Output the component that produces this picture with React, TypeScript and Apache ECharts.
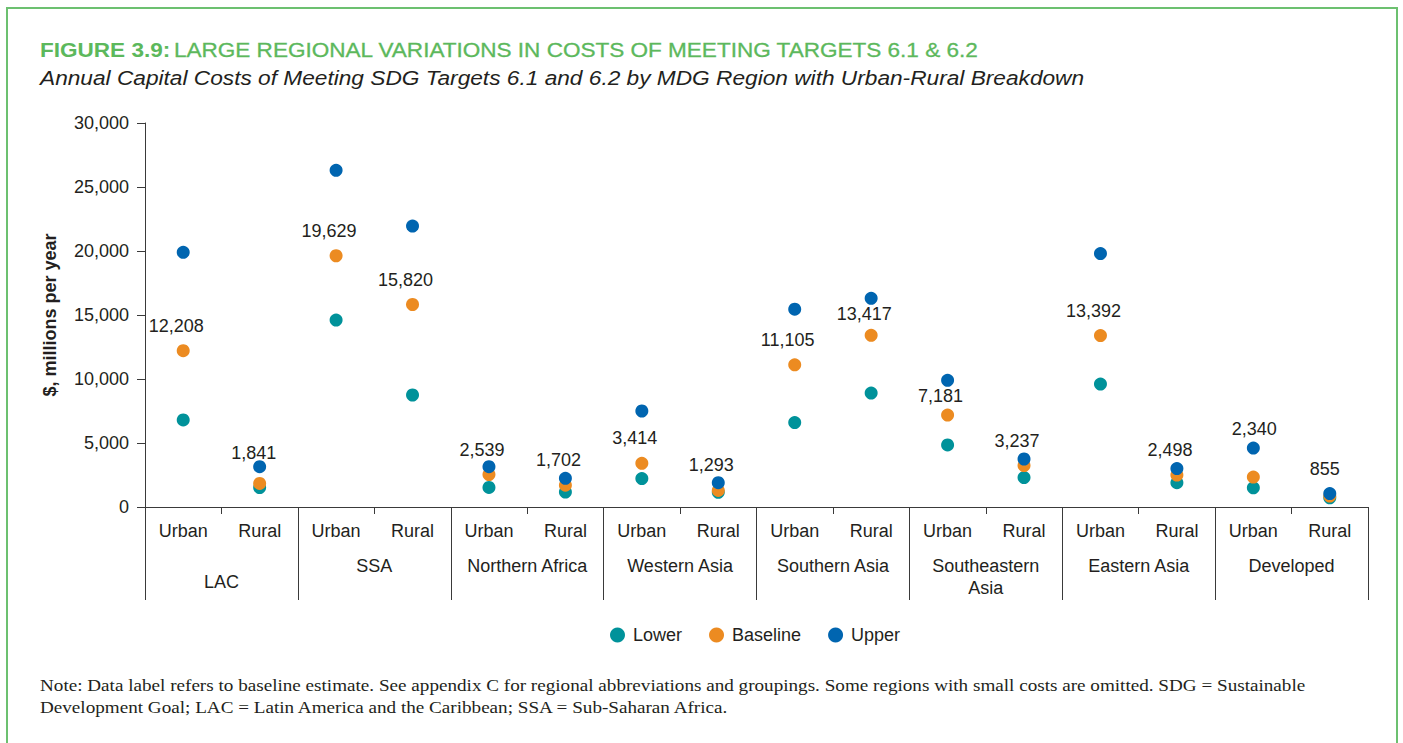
import React, { useEffect, useRef } from 'react';
import * as echarts from 'echarts';

// ---------- data ----------
const regions = ['LAC', 'SSA', 'Northern Africa', 'Western Asia', 'Southern Asia', 'Southeastern Asia', 'Eastern Asia', 'Developed'];
const areaTypes = ['Urban', 'Rural'];
const categories = regions.flatMap((r) => areaTypes.map((a) => `${r}|${a}`));

const lowerValues = [6800, 1520, 14600, 8750, 1530, 1170, 2220, 1150, 6600, 8900, 4850, 2300, 9600, 1900, 1500, 720];
const baselineValues = [12208, 1841, 19629, 15820, 2539, 1702, 3414, 1293, 11105, 13417, 7181, 3237, 13392, 2498, 2340, 855];
const upperValues = [19900, 3150, 26300, 21950, 3150, 2240, 7500, 1900, 15450, 16300, 9900, 3750, 19800, 3000, 4600, 1050];

const yMin = 0;
const yMax = 30000;
const yStep = 5000;

const seriesNames = ['Lower', 'Baseline', 'Upper'];

// label nudges (style only): [dx, dy] relative to the baseline dot centre
const defaultNudge: [number, number] = [-7, -25];
const labelNudges: Record<number, [number, number]> = {
  1: [-6, -30],
  9: [-7, -21],
  10: [-7, -19],
  14: [1, -48],
  15: [-5, -27],
};

const GREEN = '#5cb85c';
const BORDER = '#6cc070';
const TEXT = '#231f20';
const AXIS = '#3a3a3a';
const COLORS = ['#00929a', '#ec8b21', '#0065b0'];
const SANS = '"Liberation Sans", Arial, Helvetica, sans-serif';
const SERIF = '"Liberation Serif", "Times New Roman", serif';
const FS = 18;

const fmt = (v: number) => v.toLocaleString('en-US');

export default function App() {
  const ref = useRef<HTMLDivElement>(null);

  useEffect(() => {
    if (!ref.current) return;
    const chart = echarts.init(ref.current, undefined, { renderer: 'svg' });

    const option: any = {
      animation: false,
      backgroundColor: '#ffffff',
      textStyle: { fontFamily: SANS },
      grid: { left: 145, right: 35, top: 123, bottom: 236, containLabel: false },
      legend: {
        data: seriesNames,
        left: 610,
        top: 626,
        padding: 0,
        icon: 'circle',
        itemWidth: 15,
        itemHeight: 15,
        itemGap: 27,
        textStyle: { fontFamily: SANS, fontSize: FS, color: TEXT, padding: [0, 0, 0, 3] },
      },
      xAxis: [
        {
          type: 'category',
          data: categories,
          position: 'bottom',
          boundaryGap: true,
          axisLine: { show: true, lineStyle: { color: AXIS, width: 1 } },
          axisTick: { show: true, interval: 0, length: 7, lineStyle: { color: AXIS } },
          axisLabel: {
            interval: 0,
            margin: 13,
            fontSize: FS,
            lineHeight: 22,
            color: TEXT,
            fontFamily: SANS,
            formatter: (v: string) => v.split('|')[1],
          },
          splitLine: { show: false },
        },
        {
          type: 'category',
          data: regions,
          position: 'bottom',
          boundaryGap: true,
          axisLine: { show: false },
          axisTick: { show: true, interval: 0, length: 93, lineStyle: { color: AXIS } },
          axisLabel: {
            interval: 0,
            margin: 48,
            fontSize: FS,
            lineHeight: 22,
            color: TEXT,
            fontFamily: SANS,
            formatter: (v: string) => {
              if (v === 'Southeastern Asia') return 'Southeastern\nAsia';
              if (v === 'LAC') return '{low|LAC}';
              return v;
            },
            rich: {
              low: { fontSize: FS, lineHeight: 22, color: TEXT, fontFamily: SANS, padding: [31, 0, 0, 0] },
            },
          },
          splitLine: { show: false },
        },
      ],
      yAxis: {
        type: 'value',
        min: yMin,
        max: yMax,
        interval: yStep,
        name: '$, millions per year',
        nameLocation: 'middle',
        nameRotate: 90,
        nameGap: 86,
        nameTextStyle: { fontFamily: SANS, fontSize: FS, fontWeight: 'bold', color: TEXT },
        axisLine: { show: true, lineStyle: { color: AXIS, width: 1 } },
        axisTick: { show: true, length: 8, lineStyle: { color: AXIS } },
        axisLabel: { margin: 16, fontSize: FS, color: TEXT, fontFamily: SANS, formatter: (v: number) => fmt(v) },
        splitLine: { show: false },
      },
      series: [
        {
          name: seriesNames[0],
          type: 'scatter',
          symbolSize: 13,
          itemStyle: { color: COLORS[0], opacity: 1 },
          data: lowerValues,
          z: 2,
        },
        {
          name: seriesNames[1],
          type: 'scatter',
          symbolSize: 13,
          itemStyle: { color: COLORS[1], opacity: 1 },
          data: baselineValues,
          z: 3,
          label: {
            show: true,
            position: 'inside',
            fontSize: FS,
            color: TEXT,
            fontFamily: SANS,
            formatter: (p: any) => fmt(p.value),
          },
          labelLayout: (p: any) => {
            const n = labelNudges[p.dataIndex] || defaultNudge;
            return { dx: n[0], dy: n[1], hideOverlap: false };
          },
        },
        {
          name: seriesNames[2],
          type: 'scatter',
          symbolSize: 13,
          itemStyle: { color: COLORS[2], opacity: 1 },
          data: upperValues,
          z: 4,
        },
      ],
      graphic: [
        {
          type: 'rect',
          shape: { x: 7, y: 8, width: 1390, height: 800 },
          style: { fill: 'none', stroke: BORDER, lineWidth: 2 },
          silent: true,
        },
        {
          type: 'text',
          x: 40,
          y: 50,
          scaleX: 1.1,
          style: {
            text: '{b|FIGURE 3.9:} {n|LARGE REGIONAL VARIATIONS IN COSTS OF MEETING TARGETS 6.1 & 6.2}',
            verticalAlign: 'middle',
            align: 'left',
            rich: {
              b: { fontFamily: SANS, fontSize: 20.5, fontWeight: 'bold', fill: GREEN },
              n: { fontFamily: SANS, fontSize: 20.5, fill: GREEN, stroke: GREEN, lineWidth: 0.3 },
            },
          },
        },
        {
          type: 'text',
          x: 40,
          y: 78,
          scaleX: 1.107,
          style: {
            text: 'Annual Capital Costs of Meeting SDG Targets 6.1 and 6.2 by MDG Region with Urban-Rural Breakdown',
            font: `italic 20.5px ${SANS}`,
            fill: TEXT,
            verticalAlign: 'middle',
            align: 'left',
          },
        },
        {
          type: 'text',
          x: 40,
          y: 685,
          scaleX: 1.094,
          style: {
            text: 'Note: Data label refers to baseline estimate. See appendix C for regional abbreviations and groupings. Some regions with small costs are omitted. SDG = Sustainable',
            font: `17.5px ${SERIF}`,
            fill: TEXT,
            verticalAlign: 'middle',
            align: 'left',
          },
        },
        {
          type: 'text',
          x: 40,
          y: 707,
          scaleX: 1.094,
          style: {
            text: 'Development Goal; LAC = Latin America and the Caribbean; SSA = Sub-Saharan Africa.',
            font: `17.5px ${SERIF}`,
            fill: TEXT,
            verticalAlign: 'middle',
            align: 'left',
          },
        },
      ],
    };

    chart.setOption(option);
    return () => chart.dispose();
  }, []);

  return (
    <div
      ref={ref}
      style={{ position: 'fixed', left: 0, top: 0, width: 1403, height: 743, background: '#fff' }}
    />
  );
}
